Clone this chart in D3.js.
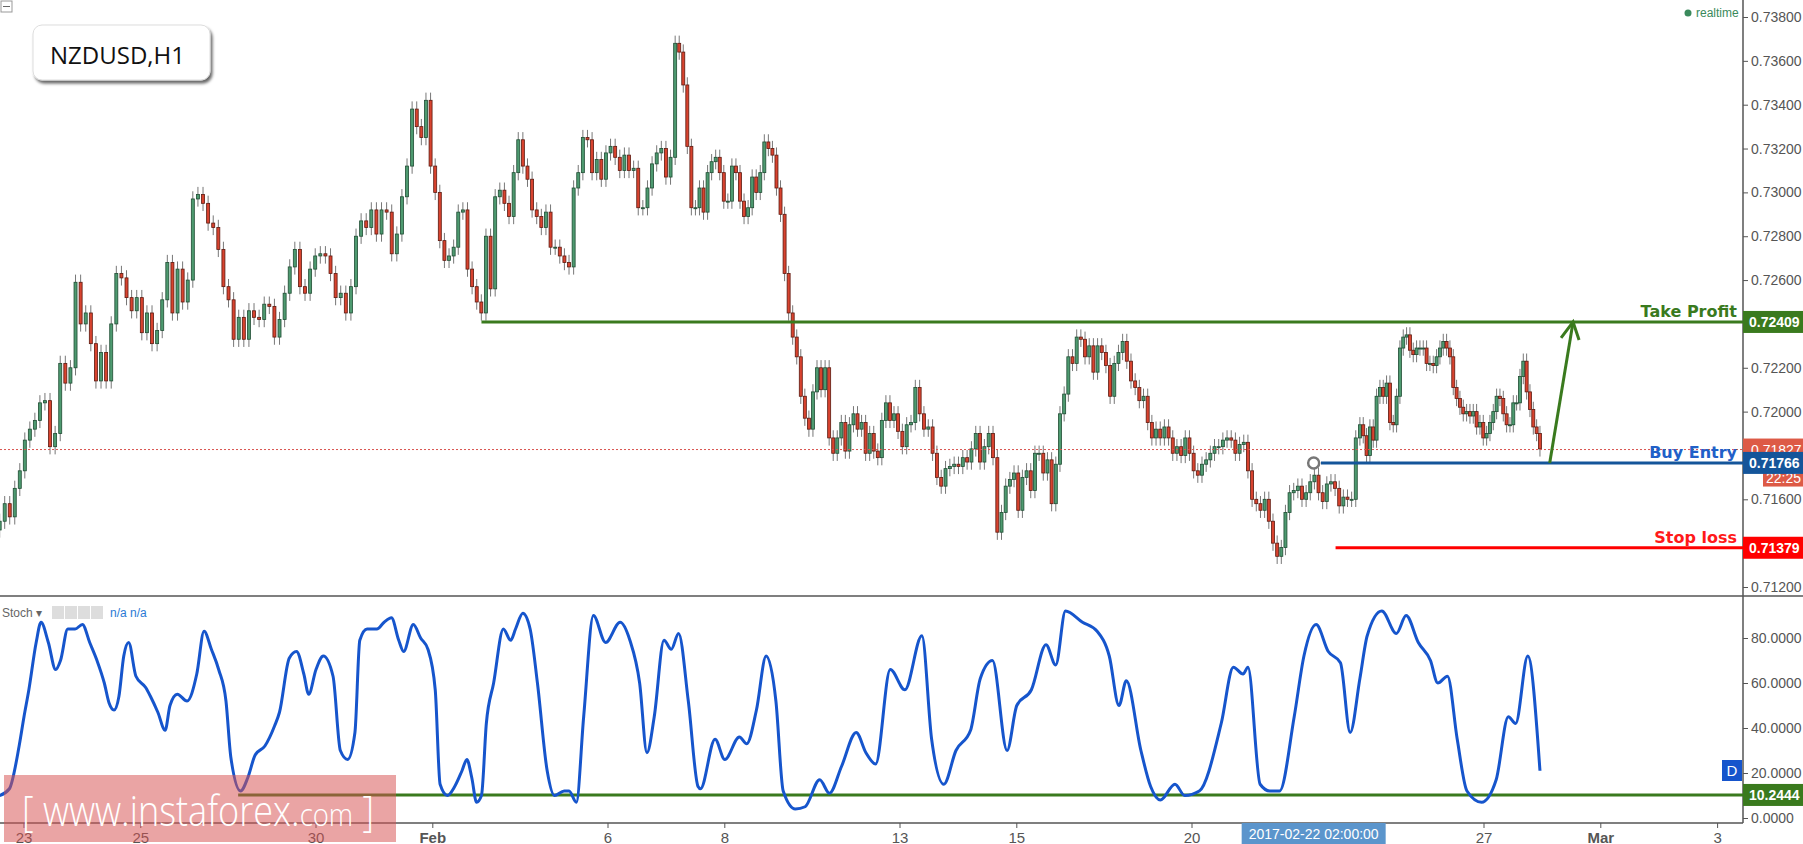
<!DOCTYPE html>
<html>
<head>
<meta charset="utf-8">
<script src="https://cdn.jsdelivr.net/npm/d3@7/dist/d3.min.js"></script>
<style>
  body { margin:0; background:#fff; }
  text { font-family:"Liberation Sans", Arial, sans-serif; }
</style>
</head>
<body>
<script>
// NZDUSD H1 closes, sampled roughly every two hours
var closes = [0.7150,0.7158,0.7152,0.7165,0.7173,0.7187,0.7192,0.7196,0.7204,0.7205,
0.7184,0.7190,0.7222,0.7213,0.7220,0.7259,0.7240,0.7245,0.7231,0.7214,0.7227,0.7214,0.7240,0.7263,0.7261,0.7252,0.7246,0.7252,0.7236,0.7245,0.7231,0.7237,0.7251,0.7268,0.7245,0.7265,0.7250,0.7260,0.7297,0.7299,0.7295,0.7286,0.7284,0.7274,0.7257,0.7251,0.7233,0.7243,0.7233,0.7246,0.7243,0.7242,0.7249,0.7248,0.7234,0.7242,0.7254,0.7266,0.7274,0.7257,0.7254,0.7265,0.7271,0.7272,0.7271,0.7263,0.7252,0.7254,0.7245,0.7257,0.7280,0.7287,0.7284,0.7292,0.7281,0.7292,0.7291,0.7272,0.7281,0.7298,0.7312,0.7338,0.7330,0.7325,0.7342,0.7312,0.7300,0.7278,0.7269,0.7271,0.7275,0.7291,0.7292,0.7265,0.7257,0.7250,0.7245,0.7280,0.7256,0.7298,0.7301,0.7295,0.7289,0.7309,0.7324,0.7312,0.7306,0.7292,0.7289,0.7284,0.7291,0.7275,0.7275,0.7271,0.7268,0.7266,0.7302,0.7309,0.7325,0.7324,0.7309,0.7315,0.7306,0.7318,0.7321,0.7316,0.7310,0.7317,0.7310,0.7311,0.7293,0.7293,0.7302,0.7313,0.7318,0.7320,0.7307,0.7316,0.7368,0.7364,0.7349,0.7321,0.7293,0.7293,0.7302,0.7291,0.7309,0.7314,0.7316,0.7309,0.7296,0.7296,0.7312,0.7309,0.7296,0.7289,0.7293,0.7307,0.7300,0.7309,0.7323,0.7320,0.7317,0.7302,0.7290,0.7263,0.7245,0.7234,0.7225,0.7207,0.7197,0.7192,0.7209,0.7220,0.7210,0.7220,0.7188,0.7181,0.7188,0.7195,0.7182,0.7194,0.7199,0.7192,0.7195,0.7181,0.7190,0.7182,0.7179,0.7196,0.7204,0.7196,0.7199,0.7191,
0.7184,0.7194,0.7195,0.7211,0.7199,0.7192,0.7193,0.7181,0.7170,0.7166,0.7174,0.7175,0.7176,0.7175,0.7179,0.7177,0.7183,0.7190,0.7177,0.7184,0.7190,0.7179,0.7145,0.7154,0.7166,0.7169,0.7172,0.7155,0.7170,0.7173,0.7164,0.7181,0.7181,0.7172,0.7178,0.7158,0.7176,0.7199,0.7208,0.7225,0.7222,0.7234,0.7233,0.7225,0.7230,0.7218,0.7230,0.7227,0.7221,0.7207,0.7222,0.7227,0.7232,0.7223,0.7214,0.7211,0.7205,0.7207,0.7195,0.7188,0.7192,0.7188,0.7193,0.7188,0.7181,0.7184,0.7180,0.7188,0.7181,0.7173,0.7171,0.7176,0.7178,0.7181,0.7184,0.7184,0.7187,0.7188,0.7187,0.7181,0.7185,0.7186,0.7173,0.7160,0.7158,0.7155,0.7160,0.7150,0.7140,0.7134,0.7138,0.7154,0.7163,0.7164,0.7166,0.7160,0.7163,0.7168,0.7171,0.7163,0.7159,0.7167,0.7168,0.7165,0.7157,0.7161,0.7160,0.7160,0.7188,0.7194,
0.7189,0.7180,0.7193,0.7187,0.7207,0.7211,0.7207,0.7213,0.7195,0.7194,0.7207,0.7229,0.7234,0.7235,0.7228,0.7226,0.7229,0.7229,0.7229,0.7222,0.7222,0.7221,0.7225,0.7229,0.7232,0.7229,0.7225,0.7211,0.7206,0.7202,0.7199,0.7200,0.7198,0.7200,0.7193,0.7195,0.7188,0.7190,0.7195,0.7200,0.7207,0.7206,0.7199,0.7194,0.7194,0.7204,0.7204,0.7216,0.7223,0.7209,0.7201,0.7193,0.7190,0.7183];
// time anchors: candle index -> trading hour since Jan 23 00:00
var anchorIndex = [0, 9, 81, 138, 193, 216, 283, 303, 357];
var anchorHour  = [-10, 8.6, 159.5, 267.6, 359.2, 400, 515, 549, 623];

var stochHour = [-10,-6,-2,0,2,5,7,10,13,15,18,21,24,27,30,33,35,37,39,41,43,46,50,52,55,58,60,63,67,71,74,77,80,83,85,89,92,95,99,103,105,109,112,115,117,120,123,127,130,133,136,138,141,145,148,151,154,156,160,163,166,169,171,174,177,180,182,184,186,188,190,193,197,200,202,205,208,211,215,218,222,224,227,230,234,239,245,249,253,256,259,263,266,269,273,277,278,284,288,294,297,301,305,309,312,317,321,327,331,336,342,346,350,356,362,369,373,378,383,389,393,398,404,408,414,420,424,428,435,441,446,450,453,459,463,467,473,477,483,492,497,501,503,508,512,516,522,526,531,536,541,545,549,552,558,564,568,573,578,581,585,589,593,599,605,610,613,618,623];
var stochValue = [10,13,32,45,57,78,87,78,66,70,84,84,86,78,70,60,51,48,54,72,78,63,58,54,47,39,50,55,52,64,83,75,66,52,27,12,18,28,32,41,47,71,74,64,55,66,72,63,30,26,38,79,84,84,87,89,79,74,86,80,75,57,15,10,14,21,26,18,7,10,42,60,84,79,84,91,84,60,21,10,12,12,7,45,90,78,87,79,60,29,45,79,75,82,52,14,13,35,26,36,33,48,72,52,12,4,5,17,11,23,38,29,24,66,57,81,35,15,30,39,62,70,30,50,57,77,68,92,87,83,72,50,61,30,14,8,15,10,12,42,67,64,67,15,12,12,45,72,86,74,69,38,62,81,92,82,90,78,70,60,63,35,12,7,17,45,42,72,21];

var priceTicks = [0.712,0.714,0.716,0.718,0.720,0.722,0.724,0.726,0.728,0.730,0.732,0.734,0.736,0.738];
var stochTicks = [0,20,40,60,80];
var dayLabels = ["23","25","30","Feb","6","8","13","15","20","27","Mar","3"];
var dayIndex  = [0,2,5,7,10,12,15,17,20,25,27,29];
var levelNames = ["Take Profit","Buy Entry","Stop loss"];
var levelValues = [0.72409,0.71766,0.71379];
var levelFromHour = [188, 533, 539];
var lastPrice = 0.71827, stochLevel = 10.2444;

var W = 1803, H = 844, axisX = 1743;
var svg = d3.select("body").append("svg").attr("width", W).attr("height", H);

var x = d3.scaleLinear().domain([0, 29*24]).range([24, 24 + 29*58.4]);
var y = d3.scaleLinear().domain([0.712, 0.738]).range([587, 17]);
var ys = d3.scaleLinear().domain([0, 80]).range([818, 638]);

// frame lines
svg.append("line").attr("x1",0).attr("x2",W).attr("y1",596).attr("y2",596).attr("stroke","#555").attr("stroke-width",1.5);
svg.append("line").attr("x1",0).attr("x2",axisX).attr("y1",823).attr("y2",823).attr("stroke","#555").attr("stroke-width",1.5);
svg.append("line").attr("x1",axisX).attr("x2",axisX).attr("y1",0).attr("y2",823).attr("stroke","#555").attr("stroke-width",1.5);
svg.append("rect").attr("x",1).attr("y",1).attr("width",11).attr("height",11).attr("fill","#fff").attr("stroke","#999");
svg.append("line").attr("x1",3).attr("x2",10).attr("y1",6.5).attr("y2",6.5).attr("stroke","#666");

// price + stoch axes
function styleAxis(g){
  g.select(".domain").remove(); g.selectAll("line").attr("stroke","#555");
  g.selectAll("text").attr("fill","#555").style("font-size","14px").attr("x",8);
}
svg.append("g").attr("transform","translate("+axisX+",0)")
  .call(d3.axisRight(y).tickValues(priceTicks).tickFormat(d3.format(".5f")).tickSize(5)).call(styleAxis);
svg.append("g").attr("transform","translate("+axisX+",0)")
  .call(d3.axisRight(ys).tickValues(stochTicks).tickFormat(d3.format(".4f")).tickSize(5)).call(styleAxis);

// time axis
var tg = svg.append("g").attr("transform","translate(0,823)");
tg.selectAll("line").data(dayIndex).enter().append("line")
  .attr("x1",function(d){return x(d*24);}).attr("x2",function(d){return x(d*24);})
  .attr("y1",0).attr("y2",5).attr("stroke","#555");
tg.selectAll("text").data(dayLabels).enter().append("text")
  .attr("x",function(d,i){return x(dayIndex[i]*24);}).attr("y",20)
  .attr("text-anchor","middle").attr("fill","#555").style("font-size","15px")
  .style("font-weight",function(d){return (d=="Feb"||d=="Mar")?"bold":"normal";})
  .text(function(d){return d;});
var hx = x(22*24 + 2);  // 2017-02-22 02:00
tg.append("rect").attr("x",hx-72).attr("y",0).attr("width",144).attr("height",21).attr("fill","#5b95cc");
tg.append("text").attr("x",hx).attr("y",16).attr("text-anchor","middle").attr("fill","#fff").style("font-size","14px").text("2017-02-22 02:00:00");

// candles
var hourAt = d3.scaleLinear().domain(anchorIndex).range(anchorHour);
var bars = closes.map(function(c,i){
  var o = i ? closes[i-1] : c - 0.0004;
  return {t: hourAt(i), o: o, c: c};
});
var wick = 0.00035, bw = 3;
var cg = svg.append("g");
cg.selectAll("line").data(bars).enter().append("line")
  .attr("x1",function(d){return x(d.t);}).attr("x2",function(d){return x(d.t);})
  .attr("y1",function(d){return y(Math.max(d.o,d.c)+wick);})
  .attr("y2",function(d){return y(Math.min(d.o,d.c)-wick);})
  .attr("stroke","#777").attr("stroke-width",1);
cg.selectAll("rect").data(bars).enter().append("rect")
  .attr("x",function(d){return x(d.t)-bw/2;})
  .attr("y",function(d){return y(Math.max(d.o,d.c));})
  .attr("width",bw)
  .attr("height",function(d){return Math.max(1,Math.abs(y(d.o)-y(d.c)));})
  .attr("fill",function(d){return d.c>=d.o?"#4e9a70":"#d8432f";})
  .attr("stroke",function(d){return d.c>=d.o?"#1f4d33":"#5c1a10";})
  .attr("stroke-width",0.8);

// current price dotted
svg.append("line").attr("x1",0).attr("x2",axisX).attr("y1",y(lastPrice)).attr("y2",y(lastPrice))
  .attr("stroke","#d9534f").attr("stroke-dasharray","2,2").attr("stroke-width",1);
svg.append("rect").attr("x",axisX).attr("y",y(lastPrice)-11).attr("width",60).attr("height",22).attr("fill","#dd5a46");
svg.append("text").attr("x",axisX+8).attr("y",y(lastPrice)+5).attr("fill","#fff").style("font-size","14px").text("0.71827");
svg.append("rect").attr("x",axisX+20).attr("y",y(lastPrice)+18).attr("width",40).attr("height",19).attr("fill","#dd5a46");
svg.append("text").attr("x",axisX+23).attr("y",y(lastPrice)+33).attr("fill","#fff").style("font-size","14px").text("22:25");

// levels
var levelColors = ["#3a7a1e","#14559a","#ff0000"];
var labelColors = ["#3a7a1e","#2160c8","#ff1a1a"];
levelValues.forEach(function(v,i){
  svg.append("line").attr("x1",x(levelFromHour[i])).attr("x2",axisX).attr("y1",y(v)).attr("y2",y(v))
    .attr("stroke",levelColors[i]).attr("stroke-width",3);
  svg.append("text").attr("x",axisX-6).attr("y",y(v)-5).attr("text-anchor","end")
    .attr("fill",labelColors[i]).style("font-family","'DejaVu Sans', Verdana, sans-serif")
    .style("font-weight","bold").style("font-size","16px").text(levelNames[i]);
  svg.append("rect").attr("x",axisX).attr("y",y(v)-11).attr("width",60).attr("height",22).attr("fill",levelColors[i]);
  svg.append("text").attr("x",axisX+6).attr("y",y(v)+5).attr("fill","#fff").style("font-weight","bold")
    .style("font-size","14px").text(d3.format(".5f")(v));
});
svg.append("circle").attr("cx",x(530)).attr("cy",y(levelValues[1])).attr("r",5.5)
  .attr("fill","#fff").attr("stroke","#777").attr("stroke-width",2.5);

// arrow to target
var a0 = [x(26*24+3), y(0.71766)], a1 = [x(26*24+12.6), y(0.72409)];
svg.append("line").attr("x1",a0[0]).attr("y1",a0[1]).attr("x2",a1[0]).attr("y2",a1[1]).attr("stroke","#3a7a1e").attr("stroke-width",3);
svg.append("polyline").attr("points",[[a1[0]-12,a1[1]+16],a1,[a1[0]+6,a1[1]+18]].join(" "))
  .attr("fill","none").attr("stroke","#3a7a1e").attr("stroke-width",3);

// realtime
svg.append("circle").attr("cx",1688).attr("cy",13).attr("r",3.5).attr("fill","#3a8a5c");
svg.append("text").attr("x",1696).attr("y",17).attr("fill","#3a8a5c").style("font-size","12px").text("realtime");

// title box
var defs = svg.append("defs");
var f = defs.append("filter").attr("id","sh").attr("x","-10%").attr("y","-10%").attr("width","130%").attr("height","150%");
f.append("feDropShadow").attr("dx",2).attr("dy",3).attr("stdDeviation",1.5).attr("flood-color","#000").attr("flood-opacity",0.6);
svg.append("rect").attr("x",33).attr("y",25).attr("width",177).attr("height",55).attr("rx",9)
  .attr("fill","#fff").attr("stroke","#ddd").attr("filter","url(#sh)");
svg.append("text").attr("x",50).attr("y",64).attr("fill","#111").style("font-family","'Open Sans', sans-serif").style("font-size","24px").text("NZDUSD,H1");

// stochastic
var sdata = stochHour.map(function(h,i){return [h, stochValue[i]];});
svg.append("line").attr("x1",x(3*24+16)).attr("x2",axisX).attr("y1",ys(stochLevel)).attr("y2",ys(stochLevel))
  .attr("stroke","#3a7a1e").attr("stroke-width",3);
svg.append("path").datum(sdata)
  .attr("d", d3.line().x(function(d){return x(d[0]);}).y(function(d){return ys(d[1]);}).curve(d3.curveMonotoneX))
  .attr("fill","none").attr("stroke","#1655cc").attr("stroke-width",3);
svg.append("rect").attr("x",axisX).attr("y",ys(stochLevel)-11).attr("width",60).attr("height",22).attr("fill","#3a7a1e");
svg.append("text").attr("x",axisX+6).attr("y",ys(stochLevel)+5).attr("fill","#fff").style("font-weight","bold").style("font-size","14px").text("10.2444");
svg.append("rect").attr("x",1722).attr("y",760).attr("width",20).attr("height",21).attr("fill","#1655cc");
svg.append("text").attr("x",1732).attr("y",776).attr("text-anchor","middle").attr("fill","#fff").style("font-size","15px").text("D");

// stoch legend
svg.append("text").attr("x",2).attr("y",617).attr("fill","#666").style("font-size","12px").text("Stoch \u25BE");
[0,1,2,3].forEach(function(i){
  svg.append("rect").attr("x",52+i*13).attr("y",606).attr("width",12).attr("height",13).attr("fill","#ddd");
});
svg.append("text").attr("x",110).attr("y",617).attr("fill","#2a7ad5").style("font-size","12px").text("n/a n/a");

// watermark
svg.append("rect").attr("x",4).attr("y",775).attr("width",392).attr("height",67).attr("fill","rgba(214,80,80,0.52)");
var wm = svg.append("text").attr("x",22).attr("y",826).attr("fill","#fff")
  .attr("textLength",352).attr("lengthAdjust","spacingAndGlyphs")
  .style("font-family","'Open Sans', sans-serif").style("font-weight","300").style("font-size","42px");
wm.append("tspan").text("[  www.instaforex.");
wm.append("tspan").style("font-size","32px").text("com");
wm.append("tspan").text(" ]");
</script>
</body>
</html>
